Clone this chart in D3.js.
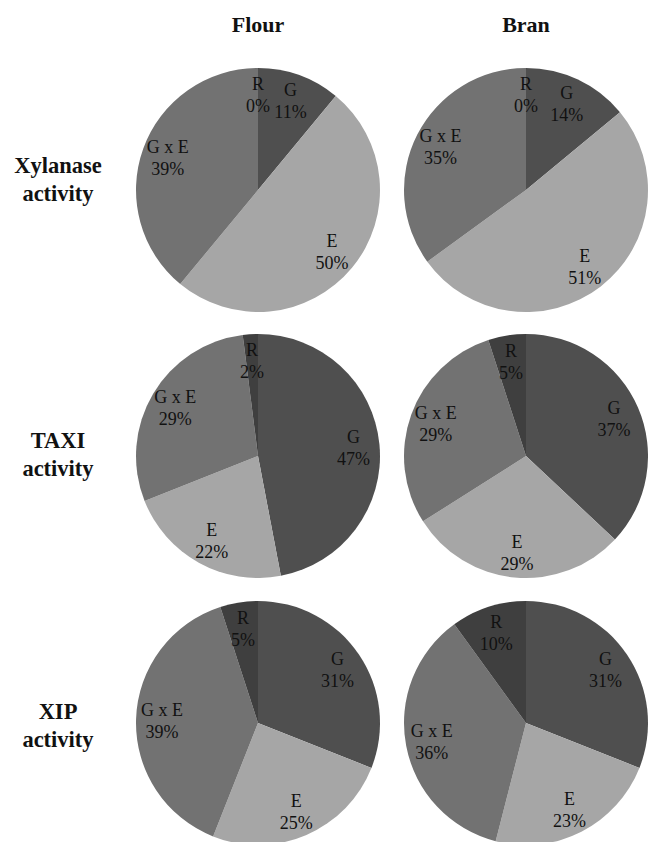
<!DOCTYPE html>
<html>
<head>
<meta charset="utf-8">
<script src="https://cdn.jsdelivr.net/npm/d3@7"></script>
<style>
  html, body { margin: 0; padding: 0; background: #fff; }
  svg { display: block; }
  svg text { font-family: "Liberation Serif", "DejaVu Serif", serif; }
</style>
</head>
<body>
<svg id="chart" width="648" height="842"></svg>
<script>
// ---- data ----
const columns = ["Flour", "Bran"];
const rows = [["Xylanase", "activity"], ["TAXI", "activity"], ["XIP", "activity"]];
const components = ["G", "E", "G x E", "R"];
// values per row (Xylanase, TAXI, XIP), per column (Flour, Bran), in component order
const xylanaseFlour = [11, 50, 39, 0];
const xylanaseBran  = [14, 51, 35, 0];
const taxiFlour     = [47, 22, 29, 2];
const taxiBran      = [37, 29, 29, 5];
const xipFlour      = [31, 25, 39, 5];
const xipBran       = [31, 23, 36, 10];
const values = [
  [xylanaseFlour, xylanaseBran],
  [taxiFlour, taxiBran],
  [xipFlour, xipBran]
];

// ---- layout / style ----
const colX = [258, 526];
const rowY = [190, 456, 723];
const rowLabelBaseline = [173, 448, 719];
const rowLabelX = 58;
const radius = 122;
const labelRadius = 96;
const colors = d3.scaleOrdinal().domain(components)
  .range(["#4f4f4f", "#a6a6a6", "#727272", "#3f3f3f"]);

const svg = d3.select("#chart");

// column titles
svg.selectAll("text.col").data(columns).join("text")
  .attr("class", "col")
  .attr("x", (d, i) => colX[i])
  .attr("y", 32)
  .attr("text-anchor", "middle")
  .attr("font-weight", "bold")
  .attr("font-size", 22)
  .attr("fill", "#111")
  .text(d => d);

// row labels
rows.forEach((lines, r) => {
  const t = svg.append("text")
    .attr("text-anchor", "middle")
    .attr("font-weight", "bold")
    .attr("font-size", 22.5)
    .attr("fill", "#111");
  lines.forEach((ln, k) => {
    t.append("tspan")
      .attr("x", rowLabelX)
      .attr("y", rowLabelBaseline[r] + k * 28)
      .text(ln);
  });
});

const pie = d3.pie().sort(null).value(d => d.value);
const arc = d3.arc().innerRadius(0).outerRadius(radius);
const labelArc = d3.arc().innerRadius(labelRadius).outerRadius(labelRadius);

values.forEach((rowVals, r) => {
  rowVals.forEach((vals, c) => {
    const data = components.map((k, i) => ({ key: k, value: vals[i] }));
    const g = svg.append("g").attr("transform", `translate(${colX[c]},${rowY[r]})`);
    const arcs = pie(data);
    g.selectAll("path").data(arcs).join("path")
      .attr("d", arc)
      .attr("fill", d => colors(d.data.key));
    const lab = g.selectAll("text").data(arcs).join("text")
      .attr("text-anchor", "middle")
      .attr("font-size", 18)
      .attr("fill", "#111")
      .attr("transform", d => {
        const [x, y] = labelArc.centroid(d);
        return `translate(${x},${y})`;
      });
    lab.append("tspan").attr("x", 0).attr("y", -4).text(d => d.data.key);
    lab.append("tspan").attr("x", 0).attr("y", 18).text(d => d.data.value + "%");
  });
});
</script>
</body>
</html>
